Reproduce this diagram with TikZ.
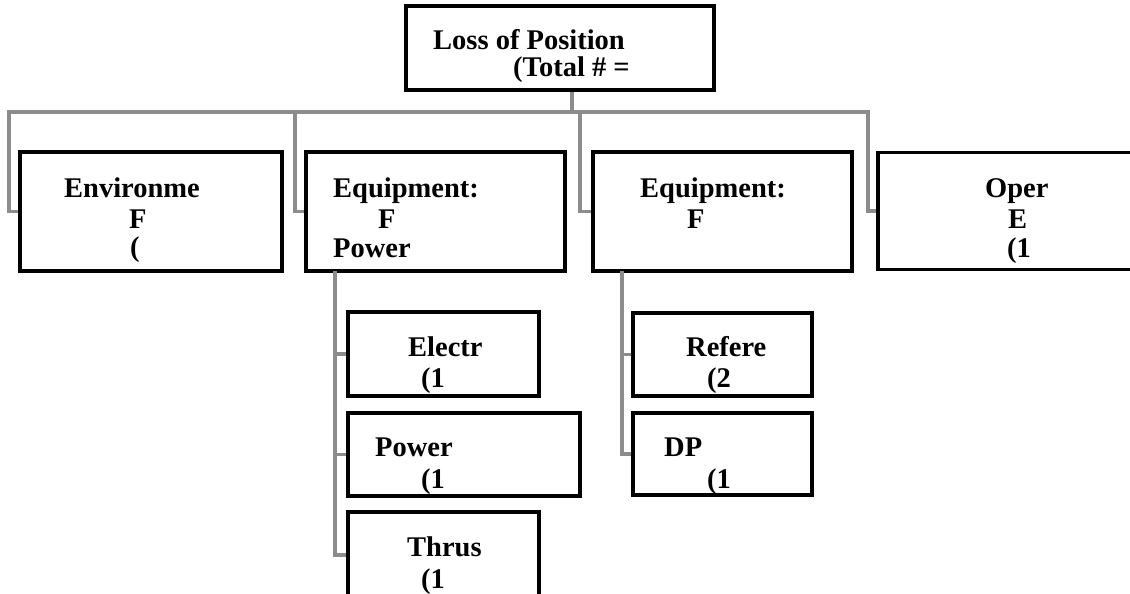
\documentclass[tikz,border=0pt]{standalone}
\usepackage{fontspec}
\setmainfont{Liberation Serif}
\definecolor{conngray}{HTML}{8C8C8C}
\begin{document}
\begin{tikzpicture}[x=1pt,y=-1pt,
  box/.style={draw=black,line width=3.8pt,rectangle,inner sep=0pt,fill=none},
  txt/.style={anchor=base west,inner sep=0pt,font=\fontsize{28.5}{34}\selectfont\bfseries},
  conn/.style={draw=conngray,line width=3.4pt,line join=miter}]
\useasboundingbox (0,0) rectangle (1130,594);
% connector junctions
\coordinate (bus) at (572,112);
\coordinate (j1) at (9,112);
\coordinate (j2) at (295,112);
\coordinate (j3) at (580,112);
\coordinate (j4) at (868,112);
\coordinate (s1) at (335,271);
\coordinate (s2) at (622,271);
% boxes (centre, width, height)
\node[box,minimum width=308pt,minimum height=84pt] (top) at (560,48) {};
\node[box,minimum width=262pt,minimum height=119pt] (env) at (151,211.5) {};
\node[box,minimum width=259pt,minimum height=119pt] (eq1) at (435.5,211.5) {};
\node[box,minimum width=259pt,minimum height=119pt] (eq2) at (722.5,211.5) {};
\node[box,minimum width=262pt,minimum height=117pt] (oper) at (1009,211) {};
\node[box,minimum width=191pt,minimum height=84pt] (electr) at (443.5,354) {};
\node[box,minimum width=232pt,minimum height=83pt] (power) at (464,454.5) {};
\node[box,minimum width=191pt,minimum height=86pt] (thrus) at (443.5,555) {};
\node[box,minimum width=179pt,minimum height=83pt] (refere) at (722.5,354.5) {};
\node[box,minimum width=179pt,minimum height=82pt] (dp) at (722.5,454) {};
% connectors
\draw[conn] (top.south -| bus) -- (bus);
\draw[conn] (bus) -- (j1) |- (env.west);
\draw[conn] (j2) |- (eq1.west);
\draw[conn] (j3) |- (eq2.west);
\draw[conn] (bus) -- (j4) |- (oper.west);
\draw[conn] (eq1.south -| s1) |- (electr.west);
\draw[conn] (s1) |- (power.west);
\draw[conn] (s1) |- (thrus.west);
\draw[conn] (eq2.south -| s2) |- (refere.west);
\draw[conn] (s2) |- (dp.west);
% texts
\node[txt] (t1) at (433,50) {Loss of Position};
\node[txt] (t2) at (513,77) {(Total \# =};
\node[txt] (t3) at (64,197) {Environme};
\node[txt] (t4) at (129,228) {F};
\node[txt] (t5) at (130,256) {(};
\node[txt] (t6) at (333,197) {Equipment:};
\node[txt] (t7) at (378,228) {F};
\node[txt] (t8) at (333,257) {Power};
\node[txt] (t9) at (640,197) {Equipment:};
\node[txt] (t10) at (687,228) {F};
\node[txt] (t11) at (985,197) {Oper};
\node[txt] (t12) at (1008,228) {E};
\node[txt] (t13) at (1007,257) {(1};
\node[txt] (t14) at (408,356) {Electr};
\node[txt] (t15) at (421,387) {(1};
\node[txt] (t16) at (375,456) {Power};
\node[txt] (t17) at (421,488) {(1};
\node[txt] (t18) at (407,556) {Thrus};
\node[txt] (t19) at (421,588) {(1};
\node[txt] (t20) at (686,356) {Refere};
\node[txt] (t21) at (707,387) {(2};
\node[txt] (t22) at (664,456) {DP};
\node[txt] (t23) at (707,488) {(1};
\end{tikzpicture}
\end{document}
